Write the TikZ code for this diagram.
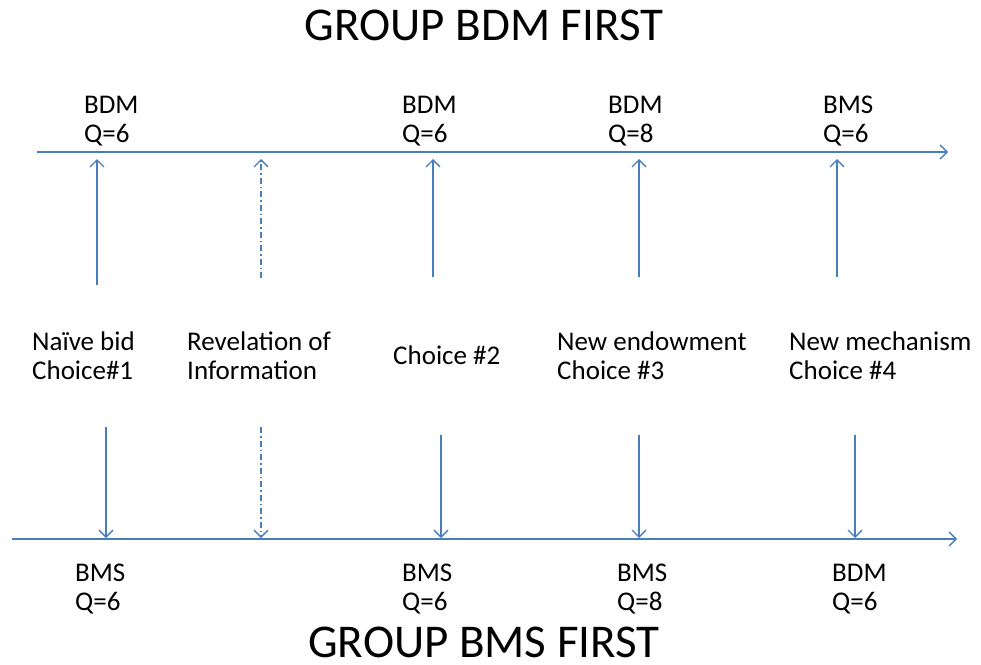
\documentclass[tikz,border=0pt]{standalone}
\usepackage{fontspec}
\setmainfont{Carlito}
\usetikzlibrary{arrows.meta,positioning}
\definecolor{lineblue}{RGB}{74,126,187}
\tikzset{x=1pt, y=-1pt, % one unit per pixel, y runs downwards
        timeline/.style={ % the two time axes
            draw=lineblue,
            line width=1.6pt,
            -{Straight Barb[length=7pt,width=14pt,line width=1.3pt]}},
        event/.style={ % arrows from a choice to an axis
            draw=lineblue,
            line width=1.3pt,
            -{Straight Barb[length=7pt,width=14pt]}},
        info/.style={ % the dash-dot arrows
            event,
            dash pattern=on 6pt off 3pt on 1.5pt off 3pt},
        tag/.style={ % small labels, placed at the baseline of their last line
            align=left,
            inner sep=0pt,
            anchor=base west,
            font=\fontsize{27}{29}\selectfont},
        heading/.style={
            inner sep=0pt,
            anchor=base,
            font=\fontsize{47}{50}\selectfont}
        }
\begin{document}
\begin{tikzpicture}
    \useasboundingbox (0,0) rectangle (981,664);

    % headings
    \node[heading] (bdmfirst) at (484,40) {GROUP BDM FIRST};
    \node[heading] (bmsfirst) at (484,657) {GROUP BMS FIRST};

    % time axes
    \coordinate (topstart) at (37,152);
    \coordinate (topend) at (948,152);
    \coordinate (botstart) at (12,539);
    \coordinate (botend) at (957,539);
    \draw[timeline] (topstart) -- (topend);
    \draw[timeline] (botstart) -- (botend);

    % labels above the top axis
    \node[tag] (topa) at (84,142) {BDM\\Q=6};
    \node[tag] (topc) at (402,142) {BDM\\Q=6};
    \node[tag] (topd) at (608,142) {BDM\\Q=8};
    \node[tag] (tope) at (823,142) {BMS\\Q=6};

    % the choices
    \node[tag] (naive) at (32,379) {Naïve bid\\Choice\#1};
    \node[tag] (reveal) at (187,379) {Revelation of\\Information};
    \node[tag] (second) at (393,364) {Choice \#2};
    \node[tag] (endow) at (557,379) {New endowment\\Choice \#3};
    \node[tag] (mech) at (789,379) {New mechanism\\Choice \#4};

    % labels below the bottom axis
    \node[tag] (bota) at (75,610) {BMS\\Q=6};
    \node[tag] (botc) at (402,610) {BMS\\Q=6};
    \node[tag] (botd) at (617,610) {BMS\\Q=8};
    \node[tag] (bote) at (832,610) {BDM\\Q=6};

    % arrow ends
    \coordinate (upa) at (97,285);   \coordinate (upa') at (97,159);
    \coordinate (upb) at (261,278);  \coordinate (upb') at (261,159);
    \coordinate (upc) at (433,277);  \coordinate (upc') at (433,159);
    \coordinate (upd) at (639,277);  \coordinate (upd') at (639,159);
    \coordinate (upe) at (837,277);  \coordinate (upe') at (837,159);
    \coordinate (dna) at (106,427);  \coordinate (dna') at (106,538);
    \coordinate (dnb) at (261,427);  \coordinate (dnb') at (261,538);
    \coordinate (dnc) at (441,435);  \coordinate (dnc') at (441,538);
    \coordinate (dnd) at (639,435);  \coordinate (dnd') at (639,538);
    \coordinate (dne) at (855,435);  \coordinate (dne') at (855,538);

    \draw[event] (upa) -- (upa');
    \draw[info]  (upb) -- (upb');
    \draw[event] (upc) -- (upc');
    \draw[event] (upd) -- (upd');
    \draw[event] (upe) -- (upe');
    \draw[event] (dna) -- (dna');
    \draw[info]  (dnb) -- (dnb');
    \draw[event] (dnc) -- (dnc');
    \draw[event] (dnd) -- (dnd');
    \draw[event] (dne) -- (dne');
\end{tikzpicture}
\end{document}
